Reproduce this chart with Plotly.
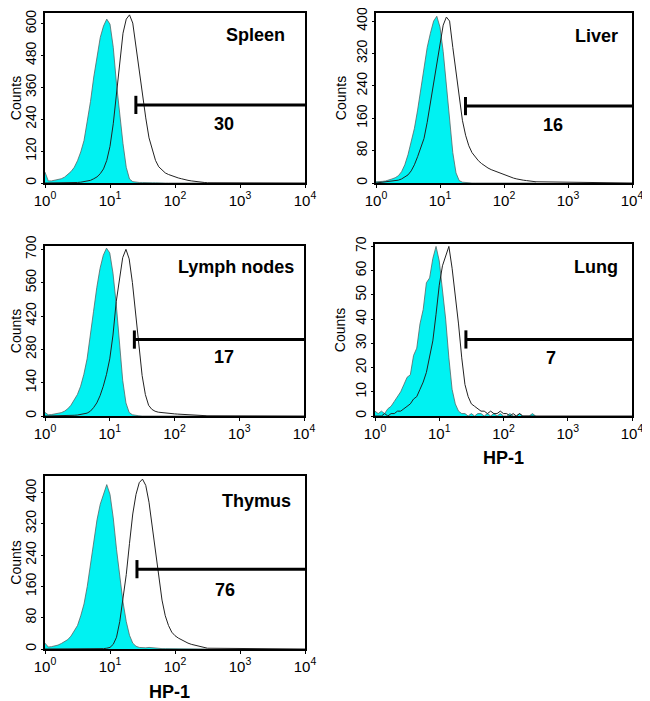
import math

import plotly.graph_objects as go
from plotly.subplots import make_subplots

# histogram channels, in decades of HP-1 fluorescence (0.00 .. 2.50, step 0.05)
decades = [0.00, 0.05, 0.10, 0.15, 0.20, 0.25, 0.30, 0.35, 0.40, 0.45,
           0.50, 0.55, 0.60, 0.65, 0.70, 0.75, 0.80, 0.85, 0.90, 0.95,
           1.00, 1.05, 1.10, 1.15, 1.20, 1.25, 1.30, 1.35, 1.40, 1.45,
           1.50, 1.55, 1.60, 1.65, 1.70, 1.75, 1.80, 1.85, 1.90, 1.95,
           2.00, 2.05, 2.10, 2.15, 2.20, 2.25, 2.30, 2.35, 2.40, 2.45,
           2.50]

organs = ['Spleen', 'Liver', 'Lymph nodes', 'Lung', 'Thymus']
percent_pos = ['30', '16', '17', '7', '76']

# isotype control (filled cyan)
spleen_iso = [41, 8, 8, 10, 12, 16, 22, 31, 43, 59,
              84, 117, 160, 233, 307, 399, 479, 548, 591, 617,
              598, 511, 373, 248, 148, 59, 15, 5, 3, 2,
              2, 1, 1, 1, 1, 0, 0, 0, 0, 0,
              0, 0, 0, 0, 0, 0, 0, 0, 0, 0,
              0]
liver_iso = [3, 3, 4, 5, 7, 10, 13, 18, 28, 45,
             70, 100, 135, 180, 230, 285, 335, 370, 400, 412,
             385, 325, 240, 150, 75, 25, 6, 2, 1, 1,
             0, 0, 0, 0, 0, 0, 0, 0, 0, 0,
             0, 0, 0, 0, 0, 0, 0, 0, 0, 0,
             0]
lymph_iso = [15, 5, 6, 8, 10, 14, 20, 30, 45, 65,
             90, 125, 175, 240, 330, 440, 540, 620, 675, 705,
             685, 600, 470, 300, 150, 55, 15, 5, 2, 1,
             0, 0, 0, 0, 0, 0, 0, 0, 0, 0,
             0, 0, 0, 0, 0, 0, 0, 0, 0, 0,
             0]
lung_iso = [2, 1, 2, 1, 3, 4, 6, 8, 10, 13,
            16, 17, 25, 28, 38, 44, 55, 57, 65, 70,
            64, 52, 40, 24, 11, 5, 2, 1, 1, 0,
            1, 0, 1, 1, 0, 1, 0, 1, 0, 1,
            0, 0, 1, 0, 0, 1, 0, 0, 0, 1,
            0]
thymus_iso = [15, 5, 6, 8, 10, 14, 18, 24, 33, 45,
              60, 85, 115, 160, 215, 275, 330, 370, 398, 420,
              395, 335, 255, 180, 120, 70, 35, 15, 7, 4,
              3, 3, 4, 3, 2, 2, 1, 1, 1, 0,
              0, 0, 0, 0, 0, 0, 0, 0, 0, 0,
              0]

# HP-1 staining (open black line)
spleen_hp1 = [0, 0, 0, 0, 0, 1, 1, 1, 1, 2,
              2, 3, 5, 7, 10, 16, 23, 35, 53, 85,
              138, 223, 330, 458, 564, 617, 633, 602, 511, 416,
              319, 245, 170, 123, 85, 61, 48, 38, 32, 27,
              22, 19, 16, 12, 10, 8, 6, 4, 3, 2,
              1]
liver_hp1 = [0, 1, 2, 2, 3, 4, 5, 7, 10, 14,
             20, 30, 45, 65, 85, 110, 150, 200, 250, 295,
             350, 390, 410, 400, 335, 272, 210, 155, 118, 92,
             75, 64, 55, 48, 42, 37, 33, 30, 26, 23,
             20, 17, 14, 12, 10, 8, 7, 6, 5, 4,
             3]
lymph_hp1 = [0, 0, 0, 0, 0, 0, 1, 1, 2, 3,
             4, 6, 8, 12, 20, 35, 55, 85, 125, 175,
             240, 340, 480, 580, 665, 700, 660, 560, 420, 290,
             170, 90, 45, 28, 20, 16, 14, 12, 11, 10,
             9, 8, 7, 6, 5, 4, 3, 3, 2, 2,
             1]
lung_hp1 = [0, 0, 0, 1, 0, 1, 1, 2, 2, 3,
            4, 5, 7, 8, 11, 14, 18, 24, 31, 42,
            54, 62, 66, 70, 61, 50, 38, 24, 13, 8,
            5, 4, 3, 2, 2, 1, 2, 1, 1, 2,
            1, 1, 0, 1, 0, 1, 0, 0, 0, 0,
            0]
thymus_hp1 = [0, 0, 0, 0, 0, 0, 0, 0, 0, 0,
              0, 0, 0, 0, 0, 0, 0, 0, 1, 2,
              4, 12, 30, 70, 125, 190, 270, 345, 395, 425,
              434, 418, 375, 310, 245, 180, 125, 85, 60, 43,
              34, 28, 23, 19, 15, 12, 10, 7, 5, 3,
              2]

iso_series = [spleen_iso, liver_iso, lymph_iso, lung_iso, thymus_iso]
hp1_series = [spleen_hp1, liver_hp1, lymph_hp1, lung_hp1, thymus_hp1]

# y axis scale and tick step per panel
y_max = [640, 420, 714, 71, 442]
y_step = [120, 80, 140, 10, 80]

# marker gate: start (HP-1 units), height (counts), label position (HP-1 units, counts)
gate_start = [25, 25, 24, 26, 26]
gate_level = [294, 190, 321, 31.6, 204]
label_x = [560, 575, 590, 540, 590]
label_y = [224, 143, 247, 24, 151]

x_tickvals = [1, 10, 100, 1000, 10000]
x_ticktext = ['10<sup>0</sup>', '10<sup>1</sup>', '10<sup>2</sup>',
              '10<sup>3</sup>', '10<sup>4</sup>']

# panel boxes in window pixels (left, right, top, bottom); the page body adds an 8px margin
W, H, PAGE_OFF = 650, 701, 8
cells = [(1, 1), (1, 2), (2, 1), (2, 2), (3, 1)]
boxes = [(45, 305, 13, 183), (376, 632, 13, 183), (45, 304, 246, 416),
         (375, 632, 244, 416), (45, 305, 476, 649)]
name_x = [0.93, 0.955, 0.969, 0.955, 0.954]
name_y = [0.87, 0.865, 0.875, 0.865, 0.855]


def fx(px):
    return (px - PAGE_OFF) / W


def fy(py):
    return 1 - (py - PAGE_OFF) / H


font_family = 'Liberation Sans, Arial, sans-serif'
cyan = '#00F2F2'

fig = make_subplots(rows=3, cols=2)

hp1 = [10 ** d for d in decades]

for i, (r, c) in enumerate(cells):
    fig.add_trace(go.Scatter(
        x=hp1, y=iso_series[i], mode='lines', fill='tozeroy',
        fillcolor=cyan, line=dict(color='#556666', width=0.8),
        showlegend=False, hoverinfo='skip'), row=r, col=c)
    fig.add_trace(go.Scatter(
        x=hp1 + [10000], y=hp1_series[i] + [0], mode='lines',
        line=dict(color='#222222', width=1),
        showlegend=False, hoverinfo='skip'), row=r, col=c)
    # gate bar
    fig.add_trace(go.Scatter(
        x=[gate_start[i], 10000], y=[gate_level[i], gate_level[i]],
        mode='lines', line=dict(color='black', width=3),
        showlegend=False, hoverinfo='skip'), row=r, col=c)
    fig.add_trace(go.Scatter(
        x=[gate_start[i]], y=[gate_level[i]], mode='markers',
        marker=dict(symbol='line-ns', size=13, color='black',
                    line=dict(color='black', width=3)),
        showlegend=False, hoverinfo='skip'), row=r, col=c)

    n = i + 1
    xref = 'x' if n == 1 else 'x%d' % n
    yref = 'y' if n == 1 else 'y%d' % n
    fig.add_annotation(text='<b>%s</b>' % organs[i], xref=xref + ' domain', yref=yref + ' domain',
                       x=name_x[i], y=name_y[i], xanchor='right', yanchor='middle',
                       showarrow=False, font=dict(size=18, color='black', family=font_family))
    # annotations on a log axis take log10 positions
    fig.add_annotation(text='<b>%s</b>' % percent_pos[i], xref=xref, yref=yref,
                       x=math.log10(label_x[i]), y=label_y[i], xanchor='center', yanchor='middle',
                       showarrow=False, font=dict(size=18, color='black', family=font_family))

    left, right, top, bottom = boxes[i]
    fig.update_xaxes(type='log', range=[0, 4], domain=[fx(left), fx(right)], automargin=False,
                     tickvals=x_tickvals, ticktext=x_ticktext, ticklabeloverflow='allow',
                     ticks='outside', ticklen=3, tickwidth=1, tickcolor='black',
                     showline=True, linecolor='black', linewidth=1.5, mirror=True,
                     showgrid=False, zeroline=False,
                     tickfont=dict(size=15, color='black', family=font_family),
                     row=r, col=c)
    fig.update_yaxes(range=[0, y_max[i]], domain=[fy(bottom), fy(top)], dtick=y_step[i], tick0=0,
                     automargin=False, ticklabeloverflow='allow',
                     tickangle=-90, ticks='outside', ticklen=2, tickcolor='black',
                     showline=True, linecolor='black', linewidth=1.5, mirror=True,
                     showgrid=False, zeroline=False,
                     tickfont=dict(size=14, color='black', family=font_family),
                     title=dict(text='Counts', standoff=4,
                                font=dict(size=14, color='black', family=font_family)),
                     row=r, col=c)

# HP-1 titles under the bottom panels
for xr, yr, xd, yd in [('x4', 'y4', 0.5, -0.246), ('x5', 'y5', 0.48, -0.249)]:
    fig.add_annotation(text='<b>HP-1</b>', xref=xr + ' domain', yref=yr + ' domain',
                       x=xd, y=yd, xanchor='center', yanchor='middle', showarrow=False,
                       font=dict(size=18, color='black', family=font_family))

fig.update_xaxes(visible=False, row=3, col=2)
fig.update_yaxes(visible=False, row=3, col=2)

fig.update_layout(
    width=W,
    height=H,
    margin=dict(t=0, b=0, l=0, r=0),
    paper_bgcolor='white',
    plot_bgcolor='white',
)

fig.write_html('out.html')
